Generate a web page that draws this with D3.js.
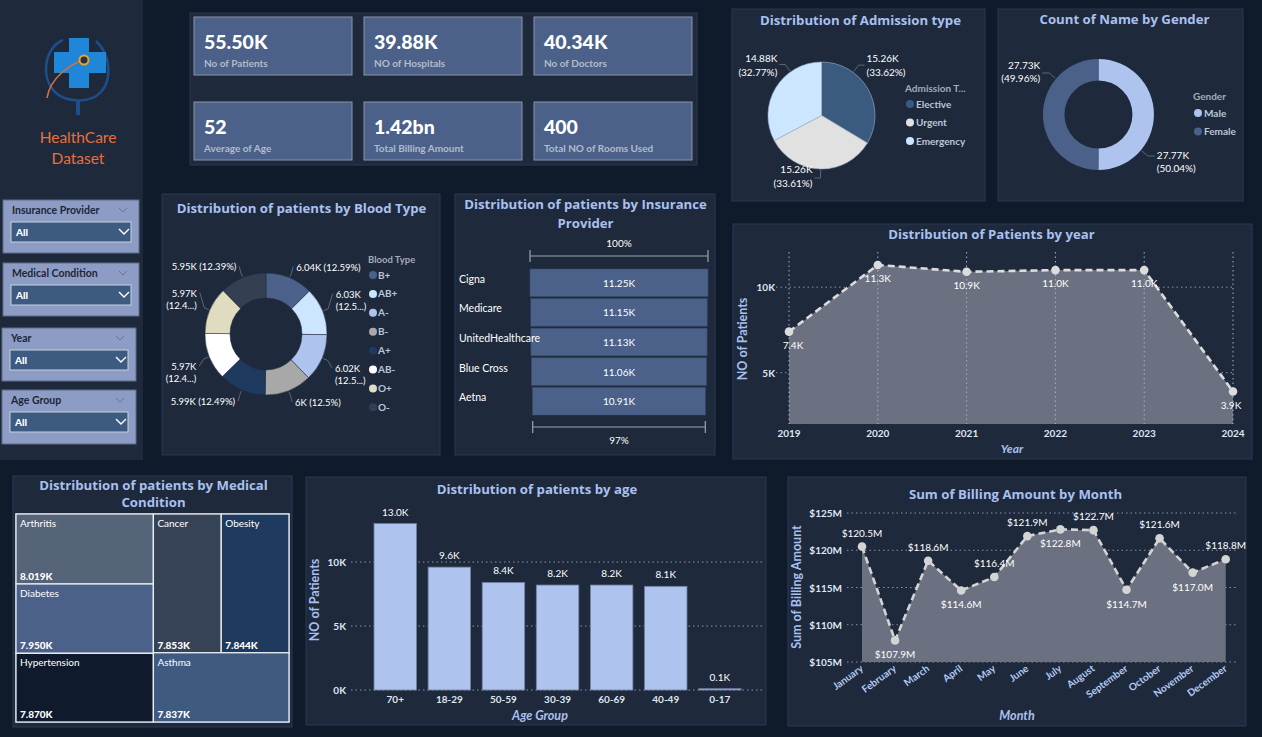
<!DOCTYPE html>
<html><head><meta charset="utf-8">
<script src="https://cdn.jsdelivr.net/npm/d3@7"></script>
<style>
html,body{margin:0;padding:0;background:#0f1a2a;overflow:hidden;}
svg{display:block;font-family:Lato,"Open Sans",sans-serif;}
</style></head><body>
<svg id="c" width="1262" height="737"></svg>
<script>
// ---------------- DATA ----------------
const kpiValues = ["55.50K","39.88K","40.34K","52","1.42bn","400"];
const kpiLabels = ["No of Patients","NO of Hospitals","No of Doctors","Average of Age","Total Billing Amount","Total NO of Rooms Used"];
const slicerNames = ["Insurance Provider","Medical Condition","Year","Age Group"];
const slicerValue = "All";

const admissionTypes = ["Elective","Urgent","Emergency"];
const admissionValues = [15262,15258,14878];

const genders = ["Male","Female"];
const genderValues = [27770,27730];

const bloodTypes = ["B+","AB+","A-","B-","A+","AB-","O+","O-"];
const bloodValues = [6040,6033,6022,5996,5990,5970,5970,5945];

const insuranceProviders = ["Cigna","Medicare","UnitedHealthcare","Blue Cross","Aetna"];
const insuranceValues = [11250,11150,11130,11060,10910];

const years = ["2019","2020","2021","2022","2023","2024"];
const yearValues = [7400,11300,10900,11000,11000,3900];
const yearTicks = [5000,10000];

const conditions = ["Arthritis","Diabetes","Hypertension","Cancer","Obesity","Asthma"];
const conditionValues = [8019,7950,7870,7853,7844,7837];

const ageGroups = ["70+","18-29","50-59","30-39","60-69","40-49","0-17"];
const ageValues = [13000,9600,8400,8200,8200,8100,100];
const ageTicks = [0,5000,10000];

const months = ["January","February","March","April","May","June","July","August","September","October","November","December"];
const billingValues = [120.5,107.9,118.6,114.6,116.4,121.9,122.8,122.7,114.7,121.6,117.0,118.8];
const billingTicks = [105,110,115,120,125];
const billingLabelSide = ["above","below","above","below","above","above","below","above","below","above","below","above"];

// ---------------- STYLE ----------------
const C = {panel:'#1e293c', border:'#2b3852', title:'#a9c0ef', white:'#ffffff', tick:'#dfe6f2', grid:'#8a93a6',
  legendTitle:'#a3abba', legendText:'#bcc6d6', card:'#4b6189', cardBorder:'#8c95a5', kpiLabel:'#b3bccb'};
const svg = d3.select('#c');

function panel(x,y,w,h){
  svg.append('rect').attr('x',x).attr('y',y).attr('width',w).attr('height',h)
    .attr('fill',C.panel).attr('stroke',C.border).attr('stroke-width',1);
}
function title(x,y,t,size){
  svg.append('text').attr('x',x).attr('y',y).attr('text-anchor','middle').attr('fill',C.title)
    .attr('font-family','"Open Sans",sans-serif')
    .attr('font-weight',700).attr('font-size',size||13.2).text(t);
}
function txt(g,x,y,t,o){
  o=o||{};
  return g.append('text').attr('x',x).attr('y',y).text(t)
    .attr('fill',o.fill||C.white).attr('font-size',o.size||10)
    .attr('font-weight',o.weight||400).attr('text-anchor',o.anchor||'start')
    .attr('font-style',o.style||'normal');
}
const fmtK = v => (+(v/1000).toFixed(2)).toString()+'K';
const fmtPct = p => (+(p*100).toFixed(2)).toString()+'%';

// ---------------- LEFT PANEL ----------------
svg.append('rect').attr('x',0).attr('y',0).attr('width',143).attr('height',460).attr('fill',C.panel);
const logo = svg.append('g');
logo.append('path').attr('d','M63,40 C44,48 40,78 56,93 C66,102 90,104 101,92 C112,80 111,55 96,41')
  .attr('fill','none').attr('stroke','#1c4f8e').attr('stroke-width',2.5);
logo.append('path').attr('d','M69,38 h20 v14 h17 v21 h-17 v15 h-20 v-15 h-15 v-21 h15 z').attr('fill','#1f86d8');
logo.append('path').attr('d','M78,100 v15').attr('stroke','#1c4f8e').attr('stroke-width',4);
logo.append('path').attr('d','M84,60 C70,64 50,78 47,98').attr('fill','none').attr('stroke','#d8703a').attr('stroke-width',1.6);
logo.append('circle').attr('cx',84).attr('cy',60).attr('r',4.5).attr('fill','#2a3140').attr('stroke','#e8a52e').attr('stroke-width',2);
txt(svg,78,143,'HealthCare',{fill:'#e8703d',size:15.5,anchor:'middle'});
txt(svg,78,164,'Dataset',{fill:'#e8703d',size:15.5,anchor:'middle'});

const slicerBoxes = [[3,200,136,53],[3,263,136,53],[2,328,134,53],[2,390,134,54]];
slicerNames.forEach((n,i)=>{
  const [x,y,w,h] = slicerBoxes[i];
  const g = svg.append('g');
  g.append('rect').attr('x',x).attr('y',y).attr('width',w).attr('height',h).attr('fill','#8c9cc4').attr('stroke','#5f6c88');
  txt(g,x+9,y+14,n,{fill:'#1d2638',size:10.5,weight:700});
  g.append('path').attr('d',`M${x+w-20},${y+8} l4,4 l4,-4`).attr('fill','none').attr('stroke','#6a7590').attr('stroke-width',1);
  g.append('rect').attr('x',x+8).attr('y',y+22).attr('width',w-16).attr('height',20).attr('fill','#3d5a80').attr('stroke','#c9d1e0');
  txt(g,x+13,y+36,slicerValue,{size:10,weight:900});
  g.append('path').attr('d',`M${x+w-20},${y+29} l5,5 l5,-5`).attr('fill','none').attr('stroke','#ffffff').attr('stroke-width',1.4);
});

// ---------------- KPI CARDS ----------------
panel(190,13,507,152);
const cardCols=[194,364,534], cardRows=[17,102];
kpiValues.forEach((v,i)=>{
  const x=cardCols[i%3], y=cardRows[Math.floor(i/3)];
  svg.append('rect').attr('x',x).attr('y',y).attr('width',158).attr('height',58).attr('fill',C.card).attr('stroke',C.cardBorder);
  txt(svg,x+10,y+32,v,{size:19.5,weight:900});
  txt(svg,x+10,y+50,kpiLabels[i],{size:10,weight:700,fill:C.kpiLabel});
});

// ---------------- ADMISSION PIE ----------------
panel(732,9,253,192);
title(860.5,25,'Distribution of Admission type');
(function(){
  const cx=821.5, cy=115.5, r=53.5;
  const colors=['#3b5a80','#e1e1e1','#cde6ff'];
  const arcs=d3.pie().sort(null).value(d=>d)(admissionValues);
  const total=d3.sum(admissionValues);
  const g=svg.append('g').attr('transform',`translate(${cx},${cy})`);
  g.selectAll('path').data(arcs).join('path').attr('d',d3.arc().innerRadius(0).outerRadius(r))
    .attr('fill',(d,i)=>colors[i]).attr('stroke','#9fb0c8').attr('stroke-width',0.6);
  arcs.forEach((a,i)=>{
    const m=(a.startAngle+a.endAngle)/2, near=Math.round(m/Math.PI)*Math.PI, t=near+(m-near)*0.6;
    const s=Math.sin(t)>=0?1:-1;
    const x1=Math.sin(t)*(r+1), y1=-Math.cos(t)*(r+1), x2=Math.sin(t)*(r+9), y2=-Math.cos(t)*(r+9);
    g.append('path').attr('d',`M${x1},${y1}L${x2},${y2}l${s*6},0`).attr('fill','none').attr('stroke','#5d6678');
    const lx=x2+s*8, up=Math.cos(t)>0;
    const b1= up? y2-3 : y2-5;
    txt(g,lx,b1,fmtK(admissionValues[i]),{anchor:s>0?'start':'end'});
    txt(g,lx,b1+14,'('+fmtPct(admissionValues[i]/total)+')',{anchor:s>0?'start':'end'});
  });
  txt(svg,905,92,'Admission T...',{fill:C.legendTitle,size:10,weight:700});
  admissionTypes.forEach((n,i)=>{
    const y=104+i*18.5;
    svg.append('circle').attr('cx',910).attr('cy',y).attr('r',4).attr('fill',colors[i]);
    txt(svg,916,y+3.5,n,{fill:C.legendText,size:10,weight:700});
  });
})();

// ---------------- GENDER DONUT ----------------
panel(998,9,245,192);
title(1124.5,24,'Count of Name by Gender');
(function(){
  const cx=1098.5, cy=114.5, r=55.5, ri=34;
  const colors=['#aec4ef','#4b6189'];
  const arcs=d3.pie().sort(null).value(d=>d)(genderValues);
  const total=d3.sum(genderValues);
  const g=svg.append('g').attr('transform',`translate(${cx},${cy})`);
  g.selectAll('path').data(arcs).join('path').attr('d',d3.arc().innerRadius(ri).outerRadius(r)).attr('fill',(d,i)=>colors[i]);
  arcs.forEach((a,i)=>{
    const t=(a.startAngle+a.endAngle)/2+40*Math.PI/180;
    const s=Math.sin(t)>=0?1:-1;
    const x1=Math.sin(t)*(r+1), y1=-Math.cos(t)*(r+1), x2=Math.sin(t)*(r+9), y2=-Math.cos(t)*(r+9);
    g.append('path').attr('d',`M${x1},${y1}L${x2},${y2}l${s*7},0`).attr('fill','none').attr('stroke','#5d6678');
    const lx=x2+s*9, up=Math.cos(t)>0;
    const b1= up? y2-4 : y2+3;
    txt(g,lx,b1,fmtK(genderValues[i]),{anchor:s>0?'start':'end'});
    txt(g,lx,b1+13,'('+fmtPct(genderValues[i]/total)+')',{anchor:s>0?'start':'end'});
  });
  txt(svg,1193,100,'Gender',{fill:C.legendTitle,size:10,weight:700});
  genders.forEach((n,i)=>{
    const y=113+i*18.5;
    svg.append('circle').attr('cx',1198).attr('cy',y).attr('r',4).attr('fill',colors[i]);
    txt(svg,1204,y+3.5,n,{fill:C.legendText,size:10,weight:700});
  });
})();

// ---------------- BLOOD TYPE DONUT ----------------
panel(162,194,278,261);
title(301.5,213,'Distribution of patients by Blood Type');
(function(){
  const cx=266, cy=334, r=61, ri=36;
  const colors=['#4b6189','#cde6ff','#aec4ef','#a8a8a8','#1f3a5f','#ffffff','#e0dcc0','#343f52'];
  const arcs=d3.pie().sort(null).value(d=>d)(bloodValues);
  const total=d3.sum(bloodValues);
  const g=svg.append('g').attr('transform',`translate(${cx},${cy})`);
  g.selectAll('path').data(arcs).join('path').attr('d',d3.arc().innerRadius(ri).outerRadius(r))
    .attr('fill',(d,i)=>colors[i]).attr('stroke','#1e293c').attr('stroke-width',0.5);
  arcs.forEach((a,i)=>{
    const m=(a.startAngle+a.endAngle)/2, s=Math.sin(m)>=0?1:-1, up=Math.cos(m)>0;
    const px=Math.sin(m)*(r+12), py=-Math.cos(m)*(r+12);
    const x1=Math.sin(m)*(r+1), y1=-Math.cos(m)*(r+1), x2=Math.sin(m)*(r+6), y2=-Math.cos(m)*(r+6);
    const two=Math.abs(Math.sin(m))>0.7;
    const ly = two ? (up? py-9 : py+9) : py+4;
    g.append('path').attr('d',`M${x1},${y1}L${x2},${y2}L${px-s*1},${ly-4}`).attr('fill','none').attr('stroke','#5d6678');
    const lab=fmtK(bloodValues[i]), pct='('+fmtPct(bloodValues[i]/total)+')';
    const anchor=s>0?'start':'end';
    if(two){
      txt(g,px+s*2,ly,lab,{anchor,size:9.5});
      txt(g,px+s*2,ly+12,pct.slice(0,5)+'...)',{anchor,size:9.5});
    } else {
      txt(g,px+s*2,ly,lab+' '+pct,{anchor,size:9.5});
    }
  });
  txt(svg,368,263,'Blood Type',{fill:C.legendTitle,size:9.5,weight:700});
  bloodTypes.forEach((n,i)=>{
    const y=275+i*18.9;
    svg.append('circle').attr('cx',373).attr('cy',y).attr('r',4).attr('fill',colors[i]);
    txt(svg,378,y+3.5,n,{fill:C.legendText,size:10,weight:700});
  });
})();

// ---------------- INSURANCE FUNNEL ----------------
panel(455,194,260,261);
title(585.5,209,'Distribution of patients by Insurance');
title(585.5,228,'Provider');
(function(){
  const cxm=619;
  const w=d3.scaleLinear().domain([0,d3.max(insuranceValues)]).range([0,178]);
  const y=d3.scaleBand().domain(insuranceProviders).range([269,415]).paddingInner(0.07);
  const g=svg.append('g');
  g.selectAll('rect').data(insuranceValues).join('rect')
    .attr('x',d=>cxm-w(d)/2).attr('width',d=>w(d))
    .attr('y',(d,i)=>y(insuranceProviders[i])).attr('height',y.bandwidth())
    .attr('fill','#4b6189').attr('stroke','#3b4d6e').attr('stroke-width',0.6);
  insuranceProviders.forEach((p,i)=>{
    const yc=y(p)+y.bandwidth()/2;
    txt(g,459,yc,p,{size:10.5});
    txt(g,cxm,yc+4,fmtK(insuranceValues[i]),{size:10,anchor:'middle'});
  });
  const first=insuranceValues[0], last=insuranceValues[insuranceValues.length-1];
  const bracket=(yy,v)=>{
    const x0=cxm-w(v)/2, x1=cxm+w(v)/2;
    g.append('path').attr('d',`M${x0},${yy-6}v12M${x0},${yy}H${x1}M${x1},${yy-6}v12`).attr('stroke','#9aa3b5').attr('stroke-width',1.2).attr('fill','none');
  };
  bracket(256,first); bracket(427,last);
  txt(g,cxm,247,Math.round(first/first*100)+'%',{size:10,anchor:'middle'});
  txt(g,cxm,444,Math.round(last/first*100)+'%',{size:10,anchor:'middle'});
})();

// ---------------- PATIENTS BY YEAR ----------------
panel(733,224,519,235);
title(991.5,239,'Distribution of Patients by year');
(function(){
  const x=d3.scalePoint().domain(years).range([789,1233]);
  const y=d3.scaleLinear().domain([2000,12000]).range([424,253]);
  const g=svg.append('g');
  yearTicks.forEach(t=>{
    g.append('line').attr('x1',776).attr('x2',1235).attr('y1',y(t)).attr('y2',y(t)).attr('stroke',C.grid).attr('stroke-dasharray','1.5,3');
    txt(g,775,y(t)+4,d3.format('~s')(t).replace('k','K'),{fill:C.tick,size:10,weight:700,anchor:'end'});
  });
  const data=years.map((yr,i)=>({yr,v:yearValues[i]}));
  g.append('path').datum(data).attr('d',d3.area().x(d=>x(d.yr)).y0(424).y1(d=>y(d.v))).attr('fill','#6b7181');
  years.forEach(yr=>{
    g.append('line').attr('x1',x(yr)).attr('x2',x(yr)).attr('y1',252).attr('y2',424).attr('stroke','#a9b1c2').attr('stroke-dasharray','1.5,3');
    txt(g,x(yr),437,yr,{fill:C.tick,size:10,weight:700,anchor:'middle'});
  });
  g.append('path').datum(data).attr('d',d3.line().x(d=>x(d.yr)).y(d=>y(d.v))).attr('fill','none')
    .attr('stroke','#dcdcdc').attr('stroke-width',2.6).attr('stroke-dasharray','7,4');
  data.forEach((d,i)=>{
    g.append('circle').attr('cx',x(d.yr)).attr('cy',y(d.v)).attr('r',4.3).attr('fill','#dcdcdc');
    const dx = i===0?4:(i===years.length-1?-2:0);
    txt(g,x(d.yr)+dx,y(d.v)+17,(d.v/1000).toFixed(1)+'K',{size:10,anchor:'middle'});
  });
  g.append('text').attr('transform','translate(747,339) rotate(-90)').attr('text-anchor','middle')
    .attr('fill',C.title).attr('font-size',12.5).attr('font-weight',700).text('NO of Patients');
  txt(g,1012,453,'Year',{fill:C.title,size:12,weight:700,style:'italic',anchor:'middle'});
})();

// ---------------- TREEMAP ----------------
panel(13,476,279,251);
title(153.5,490,'Distribution of patients by Medical');
title(153.5,507,'Condition');
(function(){
  const colors={Arthritis:'#56647a',Diabetes:'#4b6189',Hypertension:'#0f1b2d',Cancer:'#364357',Obesity:'#1f3a5f',Asthma:'#3e5a80'};
  const root=d3.hierarchy({children:conditions.map((c,i)=>({name:c,value:conditionValues[i]}))})
    .sum(d=>d.value||0).sort((a,b)=>b.value-a.value);
  d3.treemap().size([273,208]).tile(d3.treemapSquarify)(root);
  const g=svg.append('g').attr('transform','translate(16,514)');
  g.append('rect').attr('x',0).attr('y',0).attr('width',273).attr('height',208).attr('fill','none').attr('stroke','#9aa2b3').attr('stroke-width',1.5);
  const cell=g.selectAll('g').data(root.leaves()).join('g');
  cell.append('rect').attr('x',d=>d.x0).attr('y',d=>d.y0).attr('width',d=>d.x1-d.x0).attr('height',d=>d.y1-d.y0)
    .attr('fill',d=>colors[d.data.name]).attr('stroke','#e8ecf2').attr('stroke-width',1.3);
  cell.each(function(d){
    const c=d3.select(this);
    txt(c,d.x0+4,d.y0+13,d.data.name,{size:10});
    txt(c,d.x0+4,d.y1-4,(d.value/1000).toFixed(3)+'K',{size:10,weight:900});
  });
})();

// ---------------- AGE BARS ----------------
panel(306,477,460,248);
title(537,494,'Distribution of patients by age');
(function(){
  const x=d3.scaleBand().domain(ageGroups).range([368.2,746.9]).paddingInner(0.215).paddingOuter(0.1075);
  const y=d3.scaleLinear().domain([0,10000]).range([690,562]);
  const g=svg.append('g');
  ageTicks.forEach(t=>{
    g.append('line').attr('x1',351).attr('x2',764).attr('y1',y(t)).attr('y2',y(t)).attr('stroke',C.grid).attr('stroke-dasharray','1.5,3');
    txt(g,346,y(t)+4,(t/1000)+'K',{fill:C.tick,size:10,weight:700,anchor:'end'});
  });
  g.selectAll('rect.bar').data(ageValues).join('rect').attr('class','bar')
    .attr('x',(d,i)=>x(ageGroups[i])).attr('width',x.bandwidth())
    .attr('y',d=>y(d)).attr('height',d=>y(0)-y(d))
    .attr('fill','#aec4ef').attr('stroke','#6e7f9f').attr('stroke-width',0.8);
  ageValues.forEach((v,i)=>{
    const xc=x(ageGroups[i])+x.bandwidth()/2;
    txt(g,xc,y(v)-8,(v/1000).toFixed(1)+'K',{size:10,anchor:'middle'});
    txt(g,xc,703,ageGroups[i],{fill:C.tick,size:10,weight:700,anchor:'middle'});
  });
  g.append('text').attr('transform','translate(319,600) rotate(-90)').attr('text-anchor','middle')
    .attr('fill',C.title).attr('font-size',12.5).attr('font-weight',700).text('NO of Patients');
  txt(g,540,720,'Age Group',{fill:C.title,size:12.5,weight:700,style:'italic',anchor:'middle'});
})();

// ---------------- BILLING BY MONTH ----------------
panel(788,477,458,249);
title(1015.5,499,'Sum of Billing Amount by Month');
(function(){
  const x=d3.scalePoint().domain(months).range([862,1225.7]);
  const y=d3.scaleLinear().domain([105,125]).range([662,513]);
  const g=svg.append('g');
  billingTicks.forEach(t=>{
    g.append('line').attr('x1',847).attr('x2',1238).attr('y1',y(t)).attr('y2',y(t)).attr('stroke',C.grid).attr('stroke-dasharray','1.5,3');
    txt(g,842,y(t)+4,'$'+t+'M',{fill:C.tick,size:10,weight:700,anchor:'end'});
  });
  const data=months.map((m,i)=>({m,v:billingValues[i]}));
  g.append('path').datum(data).attr('d',d3.area().x(d=>x(d.m)).y0(y(105)).y1(d=>y(d.v))).attr('fill','#6b7181');
  g.append('path').datum(data).attr('d',d3.line().x(d=>x(d.m)).y(d=>y(d.v))).attr('fill','none')
    .attr('stroke','#d4d4d4').attr('stroke-width',2.6).attr('stroke-dasharray','7,4');
  data.forEach((d,i)=>{
    g.append('circle').attr('cx',x(d.m)).attr('cy',y(d.v)).attr('r',4.3).attr('fill','#d4d4d4');
    const above=billingLabelSide[i]==='above';
    txt(g,x(d.m),y(d.v)+(above?-10:18),'$'+d.v.toFixed(1)+'M',{size:10,anchor:'middle'});
    g.append('text').attr('transform',`translate(${x(d.m)+2},${670}) rotate(-36)`).attr('text-anchor','end')
      .attr('fill','#b3c9f2').attr('font-size',10).attr('font-weight',700).text(d.m);
  });
  g.append('text').attr('transform','translate(801,587) rotate(-90)').attr('text-anchor','middle')
    .attr('fill',C.title).attr('font-size',12.5).attr('font-weight',700).text('Sum of Billing Amount');
  txt(g,1017,720,'Month',{fill:C.title,size:12.5,weight:700,style:'italic',anchor:'middle'});
})();
</script>
</body></html>
